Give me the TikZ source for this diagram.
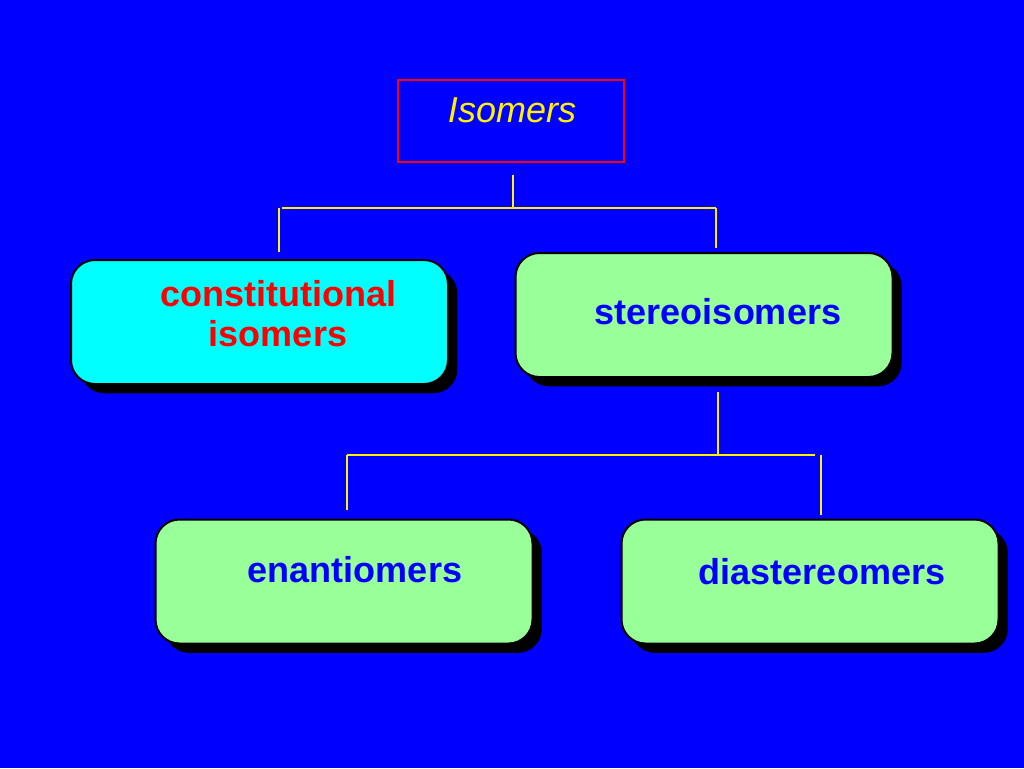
\documentclass[tikz,border=0pt]{standalone}
\usepackage{fontspec}
\setmainfont{Liberation Sans}
\definecolor{bg}{RGB}{0,0,255}
\definecolor{cy}{RGB}{0,255,255}
\definecolor{lg}{RGB}{153,255,153}
\begin{document}
\begin{tikzpicture}[x=0.75pt,y=-0.75pt,
  box/.style={draw=black,line width=1.5pt,rounded corners=18pt,minimum width=377*0.75pt,minimum height=124*0.75pt,
    drop shadow={shadow xshift=7pt,shadow yshift=-7pt,fill=black,opacity=1}},
  lbl/.style={font=\fontsize{27}{32}\selectfont\bfseries,text=bg},
  conn/.style={draw=yellow,line width=2pt}]
\usetikzlibrary{shadows}
\fill[bg] (0,0) rectangle (1024,768);
\useasboundingbox (0,0) rectangle (1024,768);
\node[draw=red,line width=2pt,minimum width=226*0.75pt,minimum height=82*0.75pt] (iso) at (511,121) {};
\node[text=yellow,font=\fontsize{27}{32}\selectfont\itshape] at (512,110) {Isomers};
\node[box,fill=cy] (con) at (259.5,322) {};
\node[font=\fontsize{27}{32}\selectfont\bfseries,text=red,align=center] at (278,314) {constitutional\\[-2pt]isomers};
\node[box,fill=lg] (ste) at (704,315) {};
\node[lbl] at (718,312) {stereoisomers};
\node[box,fill=lg] (ena) at (344,581.5) {};
\node[lbl] at (355,570) {enantiomers};
\node[box,fill=lg] (dia) at (810,581.5) {};
\node[lbl] at (822,572) {diastereomers};
\coordinate (j1) at (513,208);
\coordinate (j2) at (718,455);
\draw[conn] (513,175) -- (j1);
\draw[conn] (282,208) -- (716,208);
\draw[conn] (279,208) -- (279,252);
\draw[conn] (716,208) -- (716,248);
\draw[conn] (718,392) -- (j2);
\draw[conn] (347,455) -- (815,455);
\draw[conn] (347,455) -- (347,510);
\draw[conn] (821,455) -- (821,515);
\end{tikzpicture}
\end{document}
